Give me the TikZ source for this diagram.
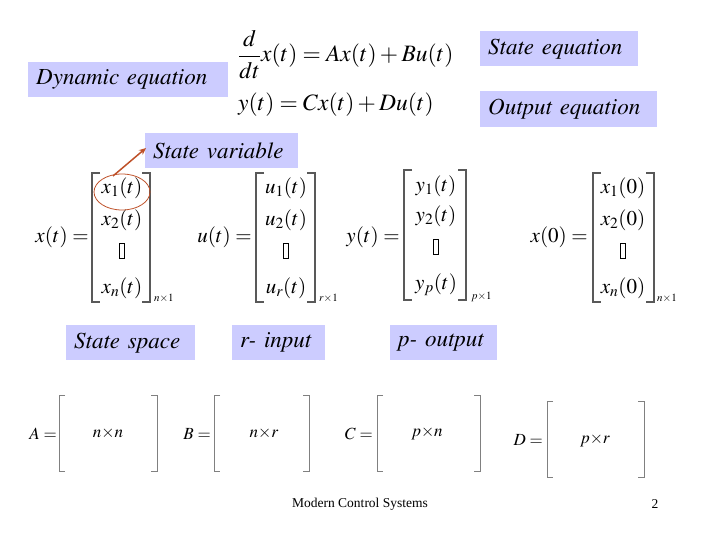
\documentclass[tikz,border=0pt]{standalone}
\usepackage{mathptmx}
\usepackage[no-math]{fontspec}
\setmainfont{Liberation Serif}
\newcommand\lblfont{\usefont{OT1}{ptm}{m}{it}}
\usetikzlibrary{arrows.meta}
\definecolor{lav}{RGB}{204,204,255}
\definecolor{arr}{RGB}{190,80,40}
\newcommand\vdbox{\tikz[baseline]\draw[line width=0.9pt] (0,0) rectangle (5pt,15pt);}
\newcommand\mybrk[5]{%
  \draw[#5] (#1+#4,#2) -- (#1,#2) -- (#1,#3) -- (#1+#4,#3);}
\newcommand\mybrr[5]{%
  \draw[#5] (#1-#4,#2) -- (#1,#2) -- (#1,#3) -- (#1-#4,#3);}
\begin{document}
\begin{tikzpicture}[x=1pt,y=-1pt]
\useasboundingbox (0,0) rectangle (720,540);
\tikzset{
  lbl/.style={fill=lav, anchor=north west, inner xsep=8pt, inner ysep=0pt,
    minimum height=35pt, align=left, font=\fontsize{23}{25}\lblfont},
  eq/.style={anchor=base west, inner sep=0pt, font=\fontsize{23.5}{26}\selectfont},
  ent/.style={inner sep=0pt, font=\fontsize{21}{24}\selectfont},
  sub/.style={inner sep=0pt, anchor=base west, font=\fontsize{11}{12}\selectfont},
  topb/.style={line width=1.3pt, draw=black!65},
  botb/.style={line width=0.9pt, draw=black!50},
  beq/.style={inner sep=0pt, font=\fontsize{17}{20}\selectfont},
}
% labels
\node[lbl, text width=184pt] (dyn) at (28,62) {Dynamic equation};
\node[lbl, text width=142pt] (steq) at (480,31) {State equation};
\node[lbl, text width=161pt, minimum height=36pt] (outeq) at (480,91) {Output equation};
\node[lbl, text width=137pt] (stvar) at (145,133) {State variable};
\node[lbl, text width=113pt] (stsp) at (66,325) {State space};
\node[lbl, text width=77pt] (rin) at (232,325) {r- input};
\node[lbl, text width=91pt] (pout) at (390,325) {p- output};
% equations
\node[eq] (eq1) at (238,62) {$\displaystyle\frac{d}{dt}x(t) = Ax(t) + Bu(t)$};
\node[eq] (eq2) at (238,111) {$y(t) = Cx(t) + Du(t)$};
% x(t)
\node[ent, anchor=east] (xl) at (89,237) {$x(t) =$};
\mybrk{92}{173}{302}{8}{topb}
\mybrr{150}{173}{302}{8}{topb}
\node[ent] (x1) at (122,188) {$x_1(t)$};
\node[ent] (x2) at (122,220) {$x_2(t)$};
\node[ent] (x3) at (122,251) {\vdbox};
\node[ent] (xn) at (122,288) {$x_n(t)$};
\node[sub] (xs) at (154,301) {$n{\times}1$};
\draw[arr, line width=0.8pt] (122,192) ellipse [x radius=28pt, y radius=18pt];
\draw[arr, line width=1.5pt, -{Stealth[length=7pt,width=6pt]}] (113,176) -- (146,148);
% u(t)
\node[ent, anchor=east] (ul) at (252,237) {$u(t) =$};
\mybrk{256}{173}{302}{8}{topb}
\mybrr{315}{173}{302}{8}{topb}
\node[ent] (u1) at (286,188) {$u_1(t)$};
\node[ent] (u2) at (286,220) {$u_2(t)$};
\node[ent] (u3) at (286,251) {\vdbox};
\node[ent] (un) at (286,288) {$u_r(t)$};
\node[sub] (us) at (319,301) {$r{\times}1$};
% y(t)
\node[ent, anchor=east] (yl) at (400,237) {$y(t) =$};
\mybrk{404}{170}{300}{8}{topb}
\mybrr{466}{170}{300}{8}{topb}
\node[ent] (y1) at (436,186) {$y_1(t)$};
\node[ent] (y2) at (436,216) {$y_2(t)$};
\node[ent] (y3) at (436,247) {\vdbox};
\node[ent] (yn) at (436,285) {$y_p(t)$};
\node[sub] (ys) at (471,299) {$p{\times}1$};
% x(0)
\node[ent, anchor=east] (x0l) at (588,237) {$x(0) =$};
\mybrk{593}{173}{302}{8}{topb}
\mybrr{654}{173}{302}{8}{topb}
\node[ent] (x01) at (623,188) {$x_1(0)$};
\node[ent] (x02) at (623,220) {$x_2(0)$};
\node[ent] (x03) at (623,251) {\vdbox};
\node[ent] (x0n) at (623,288) {$x_n(0)$};
\node[sub] (x0s) at (657,301) {$n{\times}1$};
% A B C D
\node[beq, anchor=east] (Al) at (57,434) {$A =$};
\mybrk{59}{395}{471}{6}{botb}
\mybrr{157}{395}{471}{6}{botb}
\node[beq] (An) at (108,433) {$n{\times}n$};
\node[beq, anchor=east] (Bl) at (211,434) {$B =$};
\mybrk{214}{395}{471}{6}{botb}
\mybrr{309}{395}{471}{6}{botb}
\node[beq] (Bn) at (264,433) {$n{\times}r$};
\node[beq, anchor=east] (Cl) at (373,434) {$C =$};
\mybrk{377}{395}{471}{6}{botb}
\mybrr{480}{395}{471}{6}{botb}
\node[beq] (Cn) at (427,433) {$p{\times}n$};
\node[beq, anchor=east] (Dl) at (543,440) {$D =$};
\mybrk{547}{401}{477}{6}{botb}
\mybrr{644}{401}{477}{6}{botb}
\node[beq] (Dn) at (595,440) {$p{\times}r$};
% footer
\node[inner sep=0pt, font=\fontsize{13.5}{15}\selectfont] (foot) at (360,504) {Modern Control Systems};
\node[inner sep=0pt, font=\fontsize{13.5}{15}\selectfont] (pg) at (655,504) {2};
\end{tikzpicture}
\end{document}
